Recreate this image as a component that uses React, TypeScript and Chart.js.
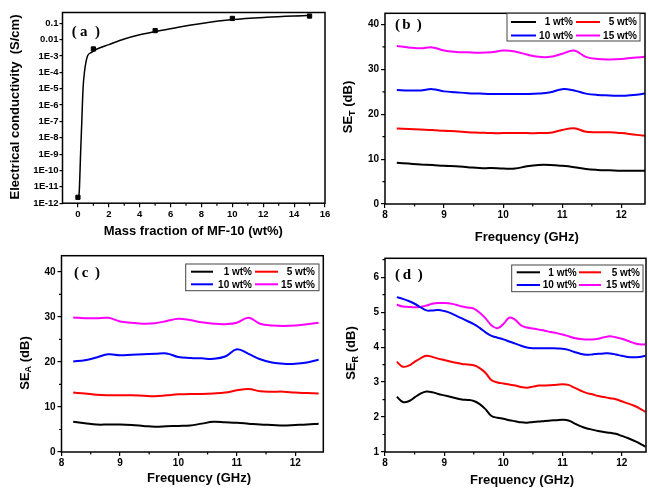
import React, { useEffect, useRef } from 'react';
import { Chart, registerables } from 'chart.js';

Chart.register(...registerables);

const FONT = '"Liberation Sans", Arial, Helvetica, sans-serif';
const SERIF = '"Liberation Serif", "Times New Roman", serif';

// ---------- (a) conductivity ----------
const massFraction = [0, 1, 5, 10, 15];
const conductivity = [2.3e-12, 2.7e-3, 0.036, 0.2, 0.28];
const fitMass = [0.06, 0.1, 0.17, 0.25, 0.33, 0.42, 0.62, 0.85, 1.2, 2.0, 3.0, 4.0, 5.0, 6.5, 7.9, 10.0, 12.2, 14.9];
const fitCond = [2.3e-12, 1e-11, 1e-9, 1e-7, 1e-5, 1e-4, 1e-3, 1.6e-3, 2.6e-3, 5e-3, 0.011, 0.02, 0.031, 0.058, 0.095, 0.17, 0.235, 0.3];
const aXTicks = [0, 2, 4, 6, 8, 10, 12, 14, 16];
const aXMinor = [1, 3, 5, 7, 9, 11, 13, 15];
const aYTicks = [1e-12, 1e-11, 1e-10, 1e-9, 1e-8, 1e-7, 1e-6, 1e-5, 1e-4, 1e-3, 1e-2, 1e-1];
const aYTickLabels = ['1E-12', '1E-11', '1E-10', '1E-9', '1E-8', '1E-7', '1E-6', '1E-5', '1E-4', '1E-3', '0.01', '0.1'];

// ---------- shared ----------
const seriesNames = ['1 wt%', '5 wt%', '10 wt%', '15 wt%'];
const seriesColors = ['#000000', '#ff0000', '#0000ff', '#ff00ff'];
const freqTicks = [8, 9, 10, 11, 12];
const freqMinor = [8.5, 9.5, 10.5, 11.5];

// ---------- (b) SE_T ----------
const freqB = [8.2, 8.4, 8.6, 8.8, 9.0, 9.2, 9.4, 9.6, 9.8, 10.0, 10.2, 10.4, 10.6, 10.8, 11.0, 11.2, 11.4, 11.6, 11.8, 12.0, 12.2, 12.4];
const seT1 = [9.2, 9.0, 8.8, 8.7, 8.5, 8.4, 8.2, 8.0, 8.0, 7.9, 7.9, 8.4, 8.7, 8.7, 8.5, 8.2, 7.8, 7.6, 7.5, 7.4, 7.4, 7.4];
const seT5 = [16.8, 16.7, 16.6, 16.5, 16.3, 16.2, 16.0, 15.9, 15.8, 15.8, 15.8, 15.8, 15.8, 15.9, 16.5, 16.9, 16.1, 16.0, 16.0, 15.8, 15.5, 15.2];
const seT10 = [25.4, 25.3, 25.3, 25.6, 25.1, 24.9, 24.7, 24.6, 24.5, 24.5, 24.5, 24.5, 24.6, 24.9, 25.6, 25.3, 24.6, 24.3, 24.2, 24.1, 24.3, 24.6];
const seT15 = [35.2, 34.9, 34.7, 34.9, 34.2, 33.9, 33.8, 33.7, 33.8, 34.2, 34.0, 33.3, 32.8, 32.8, 33.5, 34.2, 32.8, 32.3, 32.2, 32.3, 32.6, 32.8];
const seTicks = [0, 10, 20, 30, 40];
const seMinor = [5, 15, 25, 35];

// ---------- (c) SE_A ----------
const freqC = [8.2, 8.4, 8.6, 8.8, 9.0, 9.2, 9.4, 9.6, 9.8, 10.0, 10.2, 10.4, 10.6, 10.8, 11.0, 11.2, 11.4, 11.6, 11.8, 12.0, 12.2, 12.4];
const seA1 = [6.7, 6.4, 6.1, 6.1, 6.1, 6.0, 5.8, 5.6, 5.7, 5.8, 5.9, 6.3, 6.7, 6.6, 6.5, 6.3, 6.1, 6.0, 5.9, 6.0, 6.1, 6.3];
const seA5 = [13.2, 13.0, 12.7, 12.6, 12.6, 12.6, 12.5, 12.4, 12.6, 12.8, 12.9, 12.9, 13.0, 13.2, 13.7, 14.0, 13.5, 13.4, 13.4, 13.2, 13.1, 13.0];
const seA10 = [20.1, 20.4, 21.0, 21.7, 21.5, 21.6, 21.7, 21.8, 21.9, 21.1, 20.9, 20.8, 20.7, 21.2, 22.8, 21.8, 20.6, 19.9, 19.6, 19.6, 19.9, 20.5];
const seA15 = [29.9, 29.7, 29.7, 29.8, 29.0, 28.7, 28.5, 28.6, 29.1, 29.6, 29.3, 28.8, 28.5, 28.4, 28.7, 29.8, 28.5, 28.1, 28.0, 28.1, 28.4, 28.7];

// ---------- (d) SE_R ----------
const freqD = [8.2, 8.3, 8.4, 8.5, 8.6, 8.7, 8.8, 8.9, 9.0, 9.1, 9.2, 9.3, 9.4, 9.5, 9.6, 9.7, 9.8, 9.9, 10.0, 10.1, 10.2, 10.3, 10.4, 10.5, 10.6, 10.7, 10.8, 10.9, 11.0, 11.1, 11.2, 11.3, 11.4, 11.5, 11.6, 11.7, 11.8, 11.9, 12.0, 12.1, 12.2, 12.3, 12.4];
const seR1 = [2.58, 2.43, 2.45, 2.56, 2.67, 2.73, 2.71, 2.66, 2.62, 2.58, 2.54, 2.5, 2.49, 2.46, 2.37, 2.22, 2.03, 1.98, 1.95, 1.91, 1.88, 1.85, 1.84, 1.86, 1.87, 1.89, 1.9, 1.91, 1.92, 1.9, 1.82, 1.74, 1.68, 1.64, 1.6, 1.57, 1.55, 1.52, 1.46, 1.4, 1.33, 1.25, 1.15];
const seR5 = [3.58, 3.44, 3.47, 3.58, 3.68, 3.75, 3.72, 3.67, 3.63, 3.59, 3.55, 3.52, 3.5, 3.48, 3.4, 3.26, 3.05, 2.99, 2.96, 2.93, 2.9, 2.86, 2.84, 2.87, 2.9, 2.9, 2.91, 2.92, 2.94, 2.92, 2.84, 2.76, 2.69, 2.65, 2.6, 2.57, 2.54, 2.51, 2.45, 2.39, 2.33, 2.25, 2.15];
const seR10 = [5.43, 5.38, 5.32, 5.24, 5.14, 5.05, 5.05, 5.06, 5.03, 4.98, 4.9, 4.82, 4.74, 4.66, 4.55, 4.42, 4.32, 4.27, 4.22, 4.16, 4.1, 4.04, 3.99, 3.97, 3.97, 3.97, 3.97, 3.96, 3.95, 3.92, 3.86, 3.81, 3.78, 3.79, 3.81, 3.82, 3.82, 3.79, 3.75, 3.72, 3.71, 3.72, 3.75];
const seR15 = [5.21, 5.16, 5.15, 5.14, 5.15, 5.19, 5.24, 5.26, 5.26, 5.25, 5.21, 5.16, 5.13, 5.1, 4.98, 4.82, 4.62, 4.54, 4.66, 4.84, 4.78, 4.62, 4.56, 4.53, 4.5, 4.47, 4.43, 4.4, 4.36, 4.31, 4.26, 4.23, 4.22, 4.22, 4.24, 4.28, 4.31, 4.28, 4.24, 4.18, 4.12, 4.08, 4.08];
const seRTicks = [1, 2, 3, 4, 5, 6];
const seRMinor = [1.5, 2.5, 3.5, 4.5, 5.5, 6.5];

const Y_W = 40;
const X_H = 20;

type Area = { left: number; top: number; right: number; bottom: number };
type Legend = {
  box: [number, number, number, number];
  rows: [number, number];
  col1: [number, number, number];
  col2: [number, number, number];
};
type Panel = {
  area: Area;
  yType: 'linear' | 'logarithmic';
  xMin: number; xMax: number; yMin: number; yMax: number;
  xTicks: number[]; xMinor: number[]; yTicks: number[]; yMinor: number[];
  yLabels?: string[];
  datasets: any[];
  tag: string; tagPos: [number, number, number];
  xTitle: { text: string; x: number; y: number };
  yTitle: { main: string; sub: string; rest: string; x: number; y: number };
  legend?: Legend;
  tickFont: number;
};

const line = (xs: number[], ys: number[], color: string) => ({
  data: xs.map((x, i) => ({ x, y: ys[i] })),
  borderColor: color,
  backgroundColor: color,
  borderWidth: 2,
  pointRadius: 0,
  showLine: true,
  tension: 0.4,
  fill: false,
});

const PANELS: Panel[] = [
  {
    area: { left: 62.5, top: 12.5, right: 325, bottom: 203.2 },
    yType: 'logarithmic',
    xMin: -1, xMax: 16, yMin: 1e-12, yMax: 0.46,
    xTicks: aXTicks, xMinor: aXMinor, yTicks: aYTicks, yMinor: [],
    yLabels: aYTickLabels,
    datasets: [
      {
        data: fitMass.map((x, i) => ({ x, y: fitCond[i] })),
        borderColor: '#000', borderWidth: 1.5, pointRadius: 0, showLine: true,
        cubicInterpolationMode: 'monotone', fill: false,
      },
      {
        data: massFraction.map((x, i) => ({ x, y: conductivity[i] })),
        borderColor: '#000', backgroundColor: '#000', pointStyle: 'rect', pointRadius: 3,
        showLine: false,
      },
    ],
    tag: 'a', tagPos: [71.7, 100, 31.7],
    xTitle: { text: 'Mass fraction of MF-10 (wt%)', x: 193.3, y: 231.5 },
    yTitle: { main: 'Electrical conductivity  (S/cm)', sub: '', rest: '', x: 15, y: 107 },
    tickFont: 9.5,
  },
  {
    area: { left: 385, top: 13.3, right: 645, bottom: 204 },
    yType: 'linear',
    xMin: 8, xMax: 12.4, yMin: 0, yMax: 42.5,
    xTicks: freqTicks, xMinor: freqMinor, yTicks: seTicks, yMinor: seMinor,
    datasets: [
      line(freqB, seT1, seriesColors[0]),
      line(freqB, seT5, seriesColors[1]),
      line(freqB, seT10, seriesColors[2]),
      line(freqB, seT15, seriesColors[3]),
    ],
    tag: 'b', tagPos: [395, 421.7, 25],
    xTitle: { text: 'Frequency (GHz)', x: 526.7, y: 237.3 },
    yTitle: { main: 'SE', sub: 'T', rest: ' (dB)', x: 348.3, y: 107 },
    legend: { box: [507, 13.3, 640, 41], rows: [22, 35.5], col1: [511, 536, 573], col2: [576, 600, 637] },
    tickFont: 10,
  },
  {
    area: { left: 61.5, top: 255.7, right: 323.3, bottom: 452 },
    yType: 'linear',
    xMin: 8, xMax: 12.48, yMin: 0, yMax: 43.6,
    xTicks: freqTicks, xMinor: freqMinor, yTicks: seTicks, yMinor: seMinor,
    datasets: [
      line(freqC, seA1, seriesColors[0]),
      line(freqC, seA5, seriesColors[1]),
      line(freqC, seA10, seriesColors[2]),
      line(freqC, seA15, seriesColors[3]),
    ],
    tag: 'c', tagPos: [74, 100, 273.3],
    xTitle: { text: 'Frequency (GHz)', x: 199, y: 478.3 },
    yTitle: { main: 'SE', sub: 'A', rest: ' (dB)', x: 25, y: 363 },
    legend: { box: [185.7, 264, 319, 290.7], rows: [271.7, 284.3], col1: [191, 213, 252], col2: [255, 278, 315] },
    tickFont: 10,
  },
  {
    area: { left: 385, top: 258.3, right: 646, bottom: 452 },
    yType: 'linear',
    xMin: 8, xMax: 12.41, yMin: 1, yMax: 6.54,
    xTicks: freqTicks, xMinor: freqMinor, yTicks: seRTicks, yMinor: seRMinor,
    datasets: [
      line(freqD, seR1, seriesColors[0]),
      line(freqD, seR5, seriesColors[1]),
      line(freqD, seR10, seriesColors[2]),
      line(freqD, seR15, seriesColors[3]),
    ],
    tag: 'd', tagPos: [395, 422.7, 275],
    xTitle: { text: 'Frequency (GHz)', x: 522, y: 480 },
    yTitle: { main: 'SE', sub: 'R', rest: ' (dB)', x: 351.7, y: 353 },
    legend: { box: [511.7, 265, 643, 291.7], rows: [272.3, 285], col1: [516.7, 540, 576.7], col2: [579, 601, 640] },
    tickFont: 10,
  },
];

function decor(p: Panel) {
  return {
    id: 'decor',
    afterDraw(chart: any) {
      const ctx: CanvasRenderingContext2D = chart.ctx;
      const ca = chart.chartArea;
      const xs = chart.scales.x;
      const ys = chart.scales.y;
      ctx.save();
      // frame
      ctx.strokeStyle = '#000';
      ctx.lineWidth = 1.5;
      ctx.strokeRect(ca.left, ca.top, ca.right - ca.left, ca.bottom - ca.top);
      // minor ticks
      ctx.lineWidth = 1.2;
      ctx.beginPath();
      p.xMinor.forEach((v) => {
        const px = xs.getPixelForValue(v);
        ctx.moveTo(px, ca.bottom);
        ctx.lineTo(px, ca.bottom + 2.5);
      });
      p.yMinor.forEach((v) => {
        const py = ys.getPixelForValue(v);
        ctx.moveTo(ca.left, py);
        ctx.lineTo(ca.left - 2.5, py);
      });
      ctx.stroke();

      // panel tag
      ctx.fillStyle = '#000';
      ctx.textBaseline = 'middle';
      ctx.font = `bold 15px ${SERIF}`;
      const [tl, tr, ty] = p.tagPos;
      ctx.textAlign = 'left';
      ctx.fillText('(', tl, ty);
      ctx.textAlign = 'right';
      ctx.fillText(')', tr, ty);
      ctx.textAlign = 'center';
      ctx.fillText(p.tag, tl + 0.43 * (tr - tl), ty);

      // x title
      ctx.font = `bold 13px ${FONT}`;
      ctx.textAlign = 'center';
      ctx.fillText(p.xTitle.text, p.xTitle.x, p.xTitle.y);

      // y title (rotated, with optional subscript)
      const yt = p.yTitle;
      const mainFont = `bold 13px ${FONT}`;
      const subFont = `bold 9px ${FONT}`;
      ctx.font = mainFont;
      const w1 = ctx.measureText(yt.main).width;
      const w3 = ctx.measureText(yt.rest).width;
      ctx.font = subFont;
      const w2 = yt.sub ? ctx.measureText(yt.sub).width : 0;
      const total = w1 + w2 + w3;
      ctx.translate(yt.x, yt.y);
      ctx.rotate(-Math.PI / 2);
      ctx.textAlign = 'left';
      let cx = -total / 2;
      ctx.font = mainFont;
      ctx.fillText(yt.main, cx, 0);
      cx += w1;
      if (yt.sub) {
        ctx.font = subFont;
        ctx.fillText(yt.sub, cx, 4);
        cx += w2;
      }
      ctx.font = mainFont;
      ctx.fillText(yt.rest, cx, 0);
      ctx.setTransform(1, 0, 0, 1, 0, 0);

      // legend
      if (p.legend) {
        const L = p.legend;
        const [bx1, by1, bx2, by2] = L.box;
        ctx.fillStyle = '#fff';
        ctx.fillRect(bx1, by1, bx2 - bx1, by2 - by1);
        ctx.strokeStyle = '#444';
        ctx.lineWidth = 1;
        ctx.strokeRect(bx1, by1, bx2 - bx1, by2 - by1);
        ctx.font = `bold 10px ${FONT}`;
        ctx.textAlign = 'right';
        ctx.textBaseline = 'middle';
        const slots: [number, [number, number, number]][] = [
          [L.rows[0], L.col1],
          [L.rows[0], L.col2],
          [L.rows[1], L.col1],
          [L.rows[1], L.col2],
        ];
        slots.forEach(([ry, col], i) => {
          ctx.strokeStyle = seriesColors[i];
          ctx.lineWidth = 2;
          ctx.beginPath();
          ctx.moveTo(col[0], ry);
          ctx.lineTo(col[1], ry);
          ctx.stroke();
          ctx.fillStyle = '#000';
          ctx.fillText(seriesNames[i], col[2], ry + 0.5);
        });
      }
      ctx.restore();
    },
  };
}

function buildChart(canvas: HTMLCanvasElement, p: Panel) {
  const tickFont = { family: FONT, size: p.tickFont, weight: 'bold' as const };
  const grid = {
    display: true,
    drawOnChartArea: false,
    drawTicks: true,
    tickLength: 4,
    color: '#000',
    lineWidth: 1.2,
  };
  return new Chart(canvas, {
    type: 'scatter',
    data: { datasets: p.datasets },
    options: {
      animation: false,
      responsive: false,
      devicePixelRatio: 1,
      events: [],
      layout: {
        padding: {
          left: p.area.left - Y_W,
          right: 648 - p.area.right,
          top: p.area.top,
          bottom: 490 - p.area.bottom - X_H,
        },
      },
      plugins: { legend: { display: false }, tooltip: { enabled: false }, title: { display: false } },
      scales: {
        x: {
          type: 'linear',
          min: p.xMin,
          max: p.xMax,
          grid,
          border: { display: false },
          ticks: {
            color: '#000',
            font: tickFont,
            padding: 1,
            autoSkip: false,
            maxRotation: 0,
            callback: (v: any) => String(v),
          },
          afterBuildTicks: (s: any) => {
            s.ticks = p.xTicks.map((v) => ({ value: v }));
          },
          afterFit: (s: any) => {
            s.height = X_H;
            s.paddingLeft = 0;
            s.paddingRight = 0;
          },
        },
        y: {
          type: p.yType,
          min: p.yMin,
          max: p.yMax,
          grid: { ...grid, tickLength: p.yType === 'logarithmic' ? 3 : 4 },
          border: { display: false },
          ticks: {
            color: '#000',
            font: tickFont,
            padding: p.yType === 'logarithmic' ? 1 : 2,
            autoSkip: false,
            callback: (v: any, i: number) => (p.yLabels ? p.yLabels[i] : String(v)),
          },
          afterBuildTicks: (s: any) => {
            s.ticks = p.yTicks.map((v) => ({ value: v }));
          },
          afterFit: (s: any) => {
            s.width = Y_W;
            s.paddingTop = 0;
            s.paddingBottom = 0;
          },
        },
      },
    } as any,
    plugins: [decor(p)],
  });
}

export default function App() {
  const refs = useRef<(HTMLCanvasElement | null)[]>([]);
  useEffect(() => {
    const charts = PANELS.map((p, i) => buildChart(refs.current[i] as HTMLCanvasElement, p));
    return () => {
      charts.forEach((c) => c.destroy());
    };
  }, []);
  return (
    <div style={{ position: 'absolute', left: 0, top: 0, width: 648, height: 490, background: '#fff' }}>
      {PANELS.map((_, i) => (
        <canvas
          key={i}
          ref={(el) => {
            refs.current[i] = el;
          }}
          width={648}
          height={490}
          style={{ position: 'absolute', left: 0, top: 0, width: 648, height: 490 }}
        />
      ))}
    </div>
  );
}
